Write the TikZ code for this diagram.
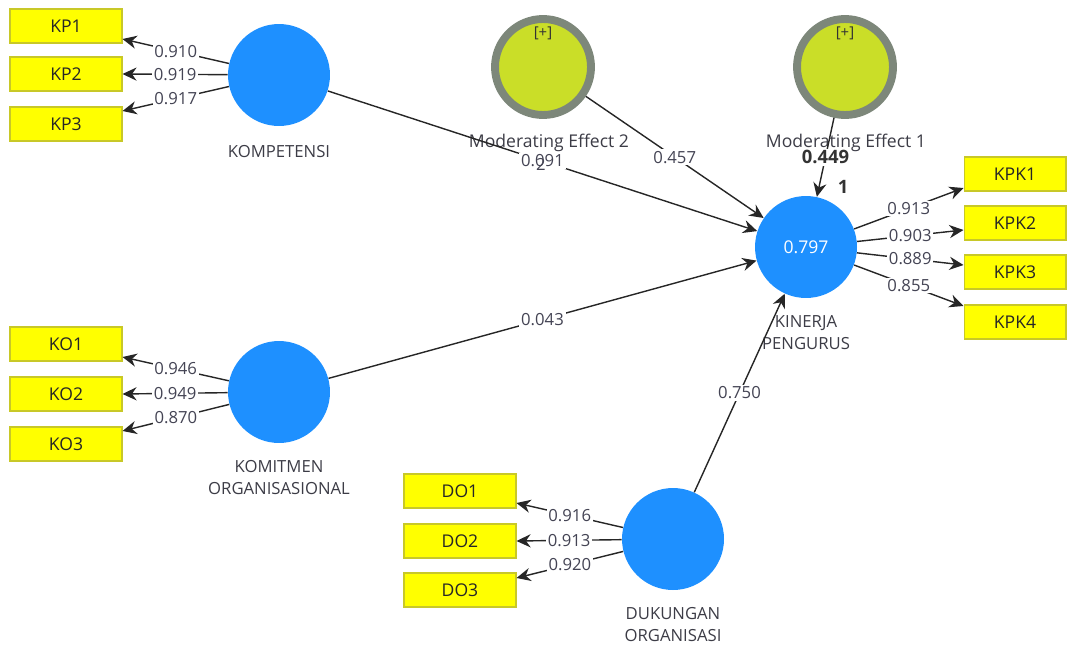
\documentclass[tikz,border=0pt]{standalone}
\usepackage{fontspec}
\setmainfont{Open Sans}
\usetikzlibrary{calc,arrows.meta}
\definecolor{lvblue}{RGB}{30,144,255}
\definecolor{indyellow}{RGB}{255,255,0}
\definecolor{indborder}{RGB}{200,200,40}
\definecolor{modfill}{RGB}{202,222,40}
\definecolor{modring}{RGB}{125,135,122}
\definecolor{numtext}{RGB}{68,68,84}
\definecolor{lvtext}{RGB}{60,60,70}
\tikzset{
  latent/.style={circle,fill=lvblue,minimum size=2.04cm,inner sep=0pt,text=white,font=\fontsize{10}{12}\selectfont},
  modvar/.style={circle,fill=modfill,draw=modring,line width=4.5pt,minimum size=1.92cm,inner sep=0pt},
  indbox/.style={rectangle,fill=indyellow,draw=indborder,line width=0.6pt,minimum width=2.24cm,minimum height=0.68cm,inner sep=0pt,text=black!85,font=\fontsize{10}{12}\selectfont},
  lvname/.style={text=lvtext,align=center,font=\fontsize{9.5}{12.5}\selectfont},
  coef/.style={fill=white,inner sep=1pt,text=numtext,font=\fontsize{9.5}{11}\selectfont},
  path/.style={draw=black!85,line width=0.8pt,-{Stealth[length=8pt,width=7.5pt]}},
}
\begin{document}
\begin{tikzpicture}[x=0.02cm,y=-0.02cm]
\useasboundingbox (0,0) rectangle (1067,649);
% latent variables
\node[latent] (komp) at (279,75) {};
\node[latent] (komit) at (279,392) {};
\node[latent] (duk) at (673,539) {};
\node[latent] (kin) at (806,247) {0.797};
\node[modvar] (mod2) at (543,67) {};
\node[modvar] (mod1) at (845,67) {};
\node[font=\fontsize{8.5}{9}\selectfont,text=black!80] (plus2) at ($(mod2)+(0,-34)$) {[+]};
\node[font=\fontsize{8.5}{9}\selectfont,text=black!80] (plus1) at ($(mod1)+(0,-34)$) {[+]};
\node[lvname] (kompname) at ($(komp)+(0,77)$) {KOMPETENSI};
\node[lvname] (komitname) at ($(komit)+(0,86)$) {KOMITMEN\\ORGANISASIONAL};
\node[lvname] (dukname) at ($(duk)+(0,86)$) {DUKUNGAN\\ORGANISASI};
\node[lvname] (kinname) at ($(kin)+(0,86)$) {KINERJA\\PENGURUS};
% indicators
\node[indbox] (kp1) at (66,26) {KP1};
\node[indbox] (kp2) at (66,74) {KP2};
\node[indbox] (kp3) at (66,124) {KP3};
\node[indbox] (ko1) at (66,344) {KO1};
\node[indbox] (ko2) at (66,394) {KO2};
\node[indbox] (ko3) at (66,444) {KO3};
\node[indbox] (do1) at (460,491) {DO1};
\node[indbox] (do2) at (460,541) {DO2};
\node[indbox] (do3) at (460,590) {DO3};
\node[indbox,minimum width=2.04cm] (kpk1) at (1015,174) {KPK1};
\node[indbox,minimum width=2.04cm] (kpk2) at (1015,223) {KPK2};
\node[indbox,minimum width=2.04cm] (kpk3) at (1015,272) {KPK3};
\node[indbox,minimum width=2.04cm] (kpk4) at (1015,322) {KPK4};
% moderating labels (under the path labels)
\node[lvname,font=\fontsize{10}{12}\selectfont] (mod2name) at (549,143) {Moderating Effect 2};
\node[lvname,font=\fontsize{10}{12}\selectfont] (mod1name) at (846,143) {Moderating Effect 1};
% loadings
\draw[path] (komp) -- node[coef]{0.910} ($(kp1.east)+(0,13)$);
\draw[path] (komp) -- node[coef]{0.919} (kp2.east);
\draw[path] (komp) -- node[coef]{0.917} ($(kp3.east)+(0,-13)$);
\draw[path] (komit) -- node[coef]{0.946} ($(ko1.east)+(0,13)$);
\draw[path] (komit) -- node[coef]{0.949} (ko2.east);
\draw[path] (komit) -- node[coef]{0.870} ($(ko3.east)+(0,-13)$);
\draw[path] (duk) -- node[coef]{0.916} ($(do1.east)+(0,12)$);
\draw[path] (duk) -- node[coef]{0.913} (do2.east);
\draw[path] (duk) -- node[coef]{0.920} ($(do3.east)+(0,-12)$);
\draw[path] (kin) -- node[coef]{0.913} ($(kpk1.west)+(0,14)$);
\draw[path] (kin) -- node[coef]{0.903} ($(kpk2.west)+(0,7)$);
\draw[path] (kin) -- node[coef]{0.889} ($(kpk3.west)+(0,-7)$);
\draw[path] (kin) -- node[coef]{0.855} ($(kpk4.west)+(0,-16)$);
% structural paths
\draw[path] (komp) -- node[coef]{0.091} (kin);
\draw[path] (mod2) -- node[coef]{0.457} (kin);
\draw[path] (mod1) -- node[coef,text=black!80,font=\fontsize{10.5}{12}\selectfont\bfseries]{0.449} (kin);
\draw[path] (komit) -- node[coef]{0.043} (kin);
\draw[path] (duk) -- node[coef]{0.750} (kin);
\node[text=numtext,font=\fontsize{9.5}{11}\selectfont] (two) at (541,164) {2};
\node[text=black!80,font=\fontsize{10.5}{12}\selectfont\bfseries] (one) at (843,187) {1};
\end{tikzpicture}
\end{document}
